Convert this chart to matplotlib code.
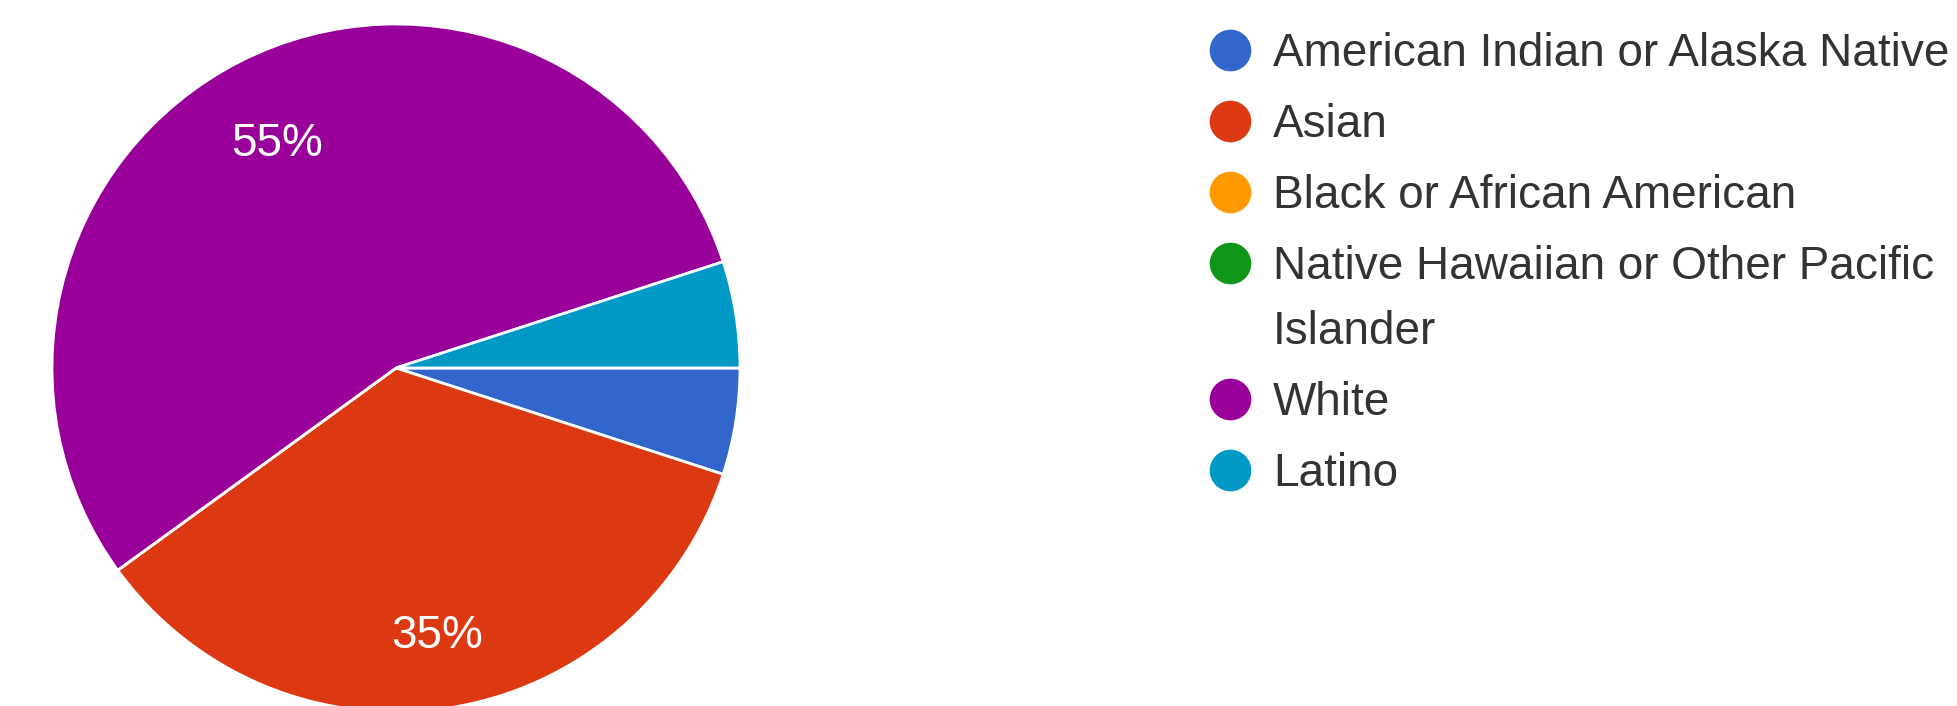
import matplotlib
matplotlib.use("Agg")
import matplotlib.pyplot as plt

categories = ["American Indian or Alaska Native", "Asian", "Black or African American",
              "Native Hawaiian or Other Pacific\nIslander", "White", "Latino"]
counts = [1, 7, 0, 0, 11, 1]
colors = ["#3366cc", "#dc3912", "#ff9900", "#109618", "#990099", "#0099c6"]

W, H = 1957, 706
fig = plt.figure(figsize=(W / 100, H / 100), dpi=100)
plt.rcParams['font.family'] = ['Liberation Sans', 'DejaVu Sans']

# pie: centre (396, 368) px, radius 344 px
cx, cy, r = 396, 368, 344
ax = fig.add_axes([(cx - r) / W, (H - cy - r) / H, 2 * r / W, 2 * r / H])


def pct_label(p):
    return "%d%%" % round(p) if p > 10 else ""


wedges, texts, autotexts = ax.pie(counts, colors=colors, startangle=0, counterclock=False,
                                  radius=1, autopct=pct_label, pctdistance=0.76,
                                  wedgeprops=dict(edgecolor="white", linewidth=2),
                                  textprops=dict(color="white", fontsize=33))
for t in autotexts:
    x, y = t.get_position()
    t.set_position((x, y - 0.027))
ax.set_xlim(-1, 1)
ax.set_ylim(-1, 1)
ax.set_aspect("equal")
ax.axis("off")

# legend drawn in pixel coordinates
lax = fig.add_axes([0, 0, 1, 1])
lax.set_xlim(0, W)
lax.set_ylim(H, 0)
lax.axis("off")
lax.patch.set_alpha(0)

row_y = 50
for label, col in zip(categories, colors):
    lax.plot(1230, row_y, "o", color=col, markersize=30, markeredgewidth=0)
    lines = label.split("\n")
    for i, line in enumerate(lines):
        lax.text(1273, row_y + 16 + i * 65, line, fontsize=33, color="#333333",
                 va="baseline", ha="left")
    row_y += 71 + (len(lines) - 1) * 65

fig.savefig("out.png", dpi=100, facecolor="white")
